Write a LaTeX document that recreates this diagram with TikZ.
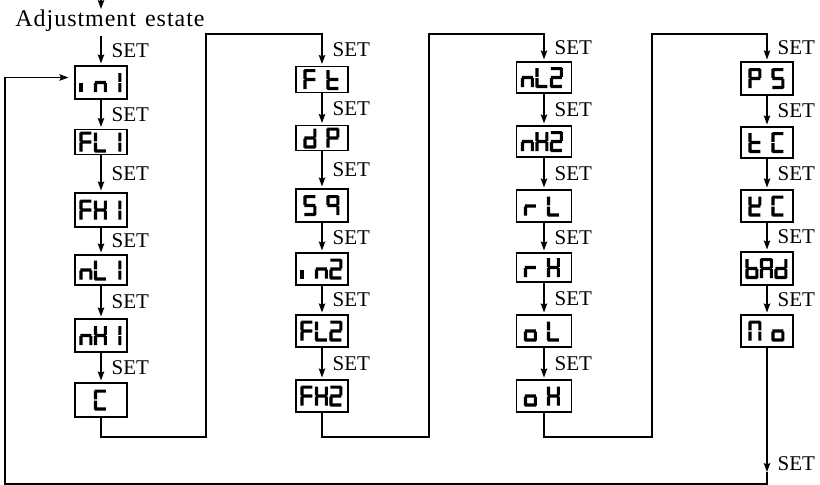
\documentclass[tikz,border=0pt]{standalone}
\usepackage{fontspec}
\setmainfont{Liberation Serif}
\newfontfamily\titlefont[LetterSpace=4]{Liberation Serif}
\usetikzlibrary{arrows.meta,calc}
% seven-segment pieces (cell 13 x 21, y downward)
\newcommand\segA{(1,0) rectangle (12,3.2)}
\newcommand\segB{(9.8,1) rectangle (13,9.9)}
\newcommand\segC{(9.8,11.1) rectangle (13,20)}
\newcommand\segD{(1,17.8) rectangle (12,21)}
\newcommand\segE{(0,11.1) rectangle (3.2,20)}
\newcommand\segF{(0,1) rectangle (3.2,9.9)}
\newcommand\segG{(1,8.9) rectangle (12,12.1)}
% characters
\newcommand\dgI{\segB\segC}
\newcommand\dgi{\segE}
\newcommand\dgn{\segE\segG\segC}
\newcommand\dgF{\segA\segF\segE\segG}
\newcommand\dgL{\segF\segE\segD}
\newcommand\dgH{\segB\segC\segE\segF\segG}
\newcommand\dgC{\segA\segF\segE\segD}
\newcommand\dgt{\segF\segE\segD\segG}
\newcommand\dgd{\segB\segC\segD\segE\segG}
\newcommand\dgP{\segA\segB\segF\segG\segE}
\newcommand\dgS{\segA\segF\segG\segC\segD}
\newcommand\dgq{\segA\segB\segF\segG\segC}
\newcommand\dgtwo{\segA\segB\segG\segE\segD}
\newcommand\dgr{\segE\segG}
\newcommand\dgo{\segC\segD\segE\segG}
\newcommand\dgA{\segA\segB\segC\segE\segF\segG}
\newcommand\dgb{\segC\segD\segE\segF\segG}
\newcommand\dgN{\segA\segB\segC\segE\segF}
\newcommand\dgU{\segB\segD\segE\segF\segG}
\newcommand\dch[3]{\fill[shift={($(#1.west)+(#2,-10.5)$)}] #3;}
\newcommand\threech[4]{\dch{#1}{5}{#2}\dch{#1}{19.5}{#3}\dch{#1}{34}{#4}}
\newcommand\twoch[3]{\dch{#1}{8}{#2}\dch{#1}{31}{#3}}
\begin{document}
\begin{tikzpicture}[x=1pt,y=-1pt, line width=1.3pt,
  arr/.style={-{Stealth[length=9pt,width=6.5pt,inset=1.5pt]}, shorten >=2pt},
  disp/.style={draw, line width=1.1pt, minimum width=52, inner sep=0},
  lbl/.style={anchor=west, inner sep=0, xshift=10pt, font=\fontsize{21}{21}\selectfont},
]
\useasboundingbox (0,0) rectangle (820,485);
% title
\node[font=\titlefont\fontsize{24}{24}\selectfont, anchor=base, inner sep=0] (title) at (110,26.7) {Adjustment\hspace{9pt}estate};
\coordinate (top) at (101,0);
\coordinate (topend) at (101,9);
\coordinate (tb) at (101,36);
% column 1
\node[disp, minimum height=33] (inI) at (101,82.5) {};
\node[disp, minimum height=25] (FLI) at (101,142) {};
\node[disp, minimum height=34] (FHI) at (101,210) {};
\node[disp, minimum height=30] (nLI) at (101,270) {};
\node[disp, minimum height=33] (nHI) at (101,335.5) {};
\node[disp, minimum height=34] (C) at (101,400) {};
% column 2
\node[disp, minimum height=26] (Ft) at (322,79.5) {};
\node[disp, minimum height=25] (dP) at (322,138) {};
\node[disp, minimum height=33] (Sq) at (322,205.5) {};
\node[disp, minimum height=32] (in2) at (322,269) {};
\node[disp, minimum height=32] (FL2) at (322,331) {};
\node[disp, minimum height=32] (FH2) at (322,396) {};
% column 3
\node[disp, minimum width=55, minimum height=31] (nL2) at (544,77.5) {};
\node[disp, minimum width=55, minimum height=31] (nH2) at (544,141.5) {};
\node[disp, minimum width=55, minimum height=32] (rL) at (544,206) {};
\node[disp, minimum width=55, minimum height=29] (rH) at (544,267.5) {};
\node[disp, minimum width=55, minimum height=32] (oL) at (544,331) {};
\node[disp, minimum width=55, minimum height=32] (oH) at (544,396) {};
% column 4
\node[disp, minimum height=33] (PS) at (767,78.5) {};
\node[disp, minimum height=31] (tC) at (767,142.5) {};
\node[disp, minimum height=32] (UC) at (767,206) {};
\node[disp, minimum height=33] (bAd) at (767,268.5) {};
\node[disp, minimum height=32] (No) at (767,331) {};
% display characters
\threech{inI}{\dgi}{\dgn}{\dgI}
\threech{FLI}{\dgF}{\dgL}{\dgI}
\threech{FHI}{\dgF}{\dgH}{\dgI}
\threech{nLI}{\dgn}{\dgL}{\dgI}
\threech{nHI}{\dgn}{\dgH}{\dgI}
\dch{C}{19.5}{\dgC}
\twoch{Ft}{\dgF}{\dgt}
\twoch{dP}{\dgd}{\dgP}
\twoch{Sq}{\dgS}{\dgq}
\threech{in2}{\dgi}{\dgn}{\dgtwo}
\threech{FL2}{\dgF}{\dgL}{\dgtwo}
\threech{FH2}{\dgF}{\dgH}{\dgtwo}
\threech{nL2}{\dgn}{\dgL}{\dgtwo}
\threech{nH2}{\dgn}{\dgH}{\dgtwo}
\twoch{rL}{\dgr}{\dgL}
\twoch{rH}{\dgr}{\dgH}
\twoch{oL}{\dgo}{\dgL}
\twoch{oH}{\dgo}{\dgH}
\twoch{PS}{\dgP}{\dgS}
\twoch{tC}{\dgt}{\dgC}
\twoch{UC}{\dgU}{\dgC}
\threech{bAd}{\dgb}{\dgA}{\dgd}
\twoch{No}{\dgN}{\dgo}
% connectors
\draw[arr, shorten >=0pt] (top) -- (topend);
\draw[arr] (tb) -- node[lbl]{SET} (inI.north);
\draw[arr] (inI) -- node[lbl]{SET} (FLI);
\draw[arr] (FLI) -- node[lbl]{SET} (FHI);
\draw[arr] (FHI) -- node[lbl]{SET} (nLI);
\draw[arr] (nLI) -- node[lbl]{SET} (nHI);
\draw[arr] (nHI) -- node[lbl]{SET} (C);
\coordinate (r1) at (206,437);
\coordinate (t1) at (322,34);
\draw[arr] (C.south) |- (r1) |- (t1) -- node[lbl]{SET} (Ft.north);
\draw[arr] (Ft) -- node[lbl]{SET} (dP);
\draw[arr] (dP) -- node[lbl]{SET} (Sq);
\draw[arr] (Sq) -- node[lbl]{SET} (in2);
\draw[arr] (in2) -- node[lbl]{SET} (FL2);
\draw[arr] (FL2) -- node[lbl]{SET} (FH2);
\coordinate (r2) at (429,437);
\coordinate (t2) at (544,34);
\draw[arr] (FH2.south) |- (r2) |- (t2) -- node[lbl]{SET} (nL2.north);
\draw[arr] (nL2) -- node[lbl]{SET} (nH2);
\draw[arr] (nH2) -- node[lbl]{SET} (rL);
\draw[arr] (rL) -- node[lbl]{SET} (rH);
\draw[arr] (rH) -- node[lbl]{SET} (oL);
\draw[arr] (oL) -- node[lbl]{SET} (oH);
\coordinate (r3) at (652,437);
\coordinate (t3) at (767,34);
\draw[arr] (oH.south) |- (r3) |- (t3) -- node[lbl]{SET} (PS.north);
\draw[arr] (PS) -- node[lbl]{SET} (tC);
\draw[arr] (tC) -- node[lbl]{SET} (UC);
\draw[arr] (UC) -- node[lbl]{SET} (bAd);
\draw[arr] (bAd) -- node[lbl]{SET} (No);
\coordinate (m4) at (767,472);
\coordinate (bl) at (5,484);
\draw[arr, shorten >=0pt] (No.south) -- node[lbl, pos=0.93]{SET} (m4);
\draw[arr, shorten >=6pt] (m4) |- (bl) |- ($(inI.west)+(0,-5)$);
\end{tikzpicture}
\end{document}
